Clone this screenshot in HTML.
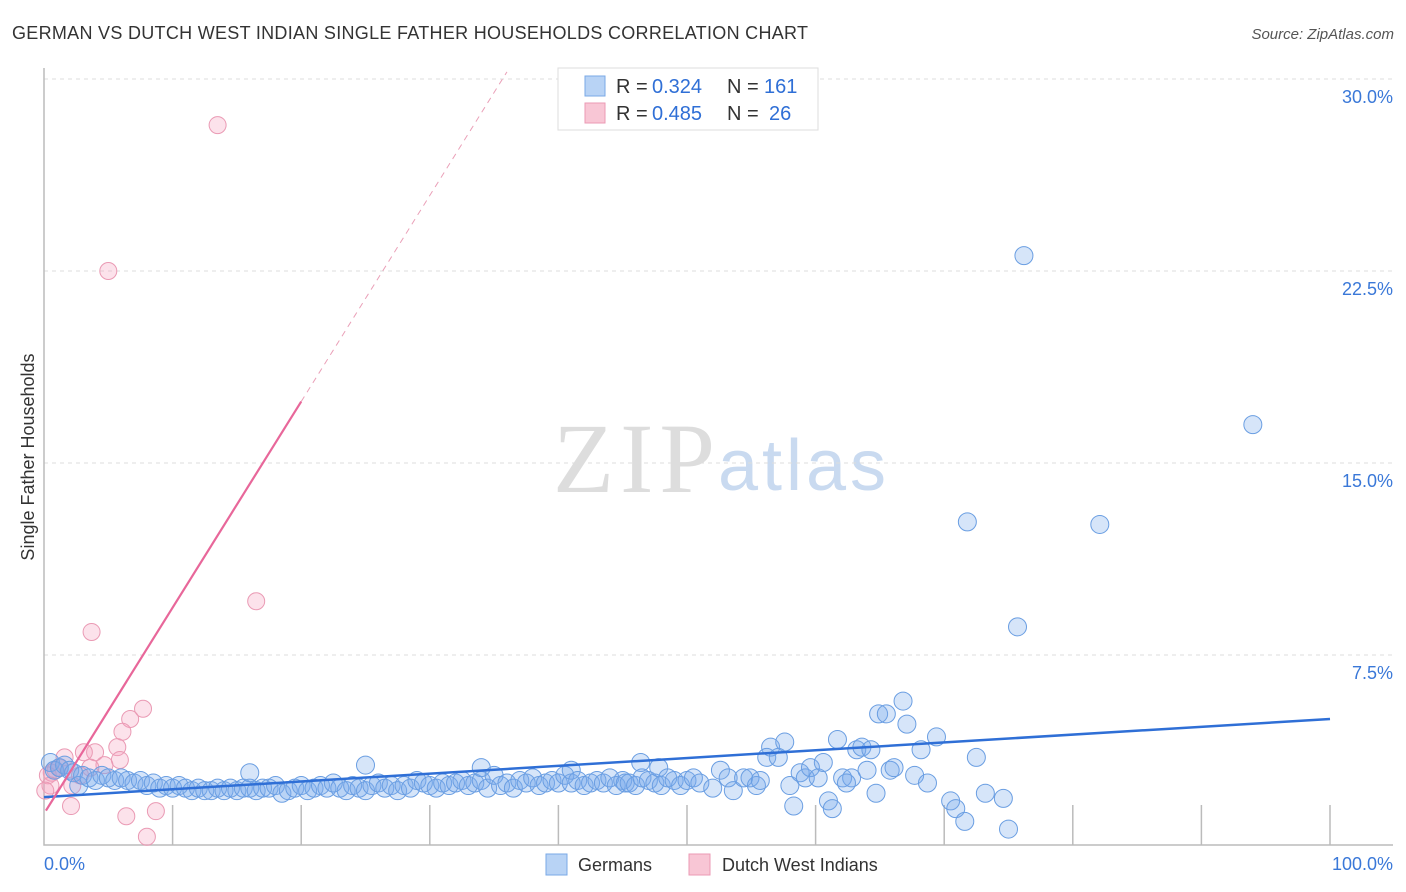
<!DOCTYPE html>
<html><head><meta charset="utf-8"><style>
body{margin:0;background:#fff;font-family:"Liberation Sans",sans-serif;}
#wrap{position:relative;width:1406px;height:892px;overflow:hidden}
</style></head><body><div id="wrap">
<svg id="svg" width="1406" height="892" xmlns="http://www.w3.org/2000/svg">
<text x="12" y="39" font-size="18" fill="#333" textLength="796">GERMAN VS DUTCH WEST INDIAN SINGLE FATHER HOUSEHOLDS CORRELATION CHART</text>
<text x="1394" y="39" font-size="15" fill="#555" text-anchor="end" font-style="italic">Source: ZipAtlas.com</text>
<text x="34" y="457" font-size="18" fill="#333" text-anchor="middle" transform="rotate(-90 34 457)">Single Father Households</text>
<text x="553" y="492" font-size="100" fill="#ddd" font-family="Liberation Serif,serif" textLength="162">ZIP</text>
<text x="718" y="490" font-size="72" fill="#c9daf0" textLength="168">atlas</text>
<g id="grid"></g><g id="axes"></g><g id="pts"></g><g id="lines"></g>
<rect x="558" y="68" width="260" height="62" fill="#fff" stroke="#ddd"/>
<rect x="585" y="76" width="20" height="20" fill="#b8d3f5" stroke="#7aa8e6"/>
<rect x="585" y="103" width="20" height="20" fill="#f8c6d5" stroke="#eb9ab4"/>
<g font-size="20" fill="#333">
<text x="616" y="93">R =</text>
<text x="652" y="93" fill="#2f6fd6">0.324</text>
<text x="727" y="93">N =</text>
<text x="764" y="93" fill="#2f6fd6">161</text>
<text x="616" y="120">R =</text>
<text x="652" y="120" fill="#2f6fd6">0.485</text>
<text x="727" y="120">N =</text>
<text x="769" y="120" fill="#2f6fd6">26</text>
</g>
<text x="44" y="870" font-size="18" fill="#3a78d8">0.0%</text>
<text x="1393" y="870" font-size="18" fill="#3a78d8" text-anchor="end">100.0%</text>
<rect x="546" y="854" width="21" height="21" fill="#b8d3f5" stroke="#7aa8e6"/>
<text x="578" y="871" font-size="18" fill="#333">Germans</text>
<rect x="689" y="854" width="21" height="21" fill="#f8c6d5" stroke="#eb9ab4"/>
<text x="722" y="871" font-size="18" fill="#333">Dutch West Indians</text>
</svg></div>
<script>
const yTicks=[7.5,15,22.5,30];
const yTickLabels=["7.5%","15.0%","22.5%","30.0%"];
const germansX=[0.5,0.8,1.2,1.6,2,2.3,2.7,3,3.5,4,4.5,5,5.5,6,6.5,7,7.5,8,8.5,9,9.5,10,10.5,11,11.5,12,12.5,13,13.5,14,14.5,15,15.5,16,16,16.5,17,17.5,18,18.5,19,19.5,20,20.5,21,21.5,22,22.5,23,23.5,24,24.5,25,25,25.5,26,26.5,27,27.5,28,28.5,29,29.5,30,30.5,31,31.5,32,32.5,33,33.5,34,34,34.5,35,35.5,36,36.5,37,37.5,38,38.5,39,39.5,40,40.5,41,41,41.5,42,42.5,43,43.5,44,44.5,45,45.2,45.5,46,46.4,46.5,47,47.5,47.8,48,48.5,49,49.5,50,50.5,51,52,52.6,53.2,53.6,54.4,54.9,55.4,55.7,56.5,57.6,56.2,57.1,58,58.3,58.8,59.2,59.6,60.2,60.6,61,61.3,61.7,62.1,62.8,62.4,63.2,63.6,64.3,64,64.7,64.9,65.5,66.8,67.1,65.8,66.1,68.2,67.7,68.7,69.4,70.5,70.9,71.6,72.5,73.2,74.6,75,76.2,94,71.8,82.1,75.7];
const germansY=[3.3,3.0,3.1,3.2,3.0,2.9,2.4,2.8,2.7,2.6,2.8,2.7,2.6,2.7,2.6,2.5,2.6,2.4,2.5,2.3,2.4,2.3,2.4,2.3,2.2,2.3,2.2,2.2,2.3,2.2,2.3,2.2,2.3,2.3,2.9,2.2,2.3,2.3,2.4,2.1,2.2,2.3,2.4,2.2,2.3,2.4,2.3,2.5,2.3,2.2,2.4,2.3,2.2,3.2,2.4,2.5,2.3,2.4,2.2,2.4,2.3,2.6,2.5,2.4,2.3,2.5,2.4,2.5,2.6,2.4,2.5,2.6,3.1,2.3,2.8,2.4,2.5,2.3,2.6,2.5,2.7,2.4,2.5,2.6,2.5,2.8,2.5,3.0,2.6,2.4,2.5,2.6,2.5,2.7,2.4,2.6,2.5,2.5,2.4,3.3,2.7,2.6,2.5,3.1,2.4,2.7,2.6,2.4,2.6,2.7,2.5,2.3,3.0,2.7,2.2,2.7,2.7,2.4,2.6,3.9,4.1,3.5,3.5,2.4,1.6,2.9,2.7,3.1,2.7,3.3,1.8,1.5,4.2,2.7,2.7,2.5,3.8,3.9,3.8,3.0,2.1,5.2,5.2,5.7,4.8,3.0,3.1,3.8,2.8,2.5,4.3,1.8,1.5,1.0,3.5,2.1,1.9,0.7,23.1,16.5,12.7,12.6,8.6];
const dutchX=[13.5,5,16.5,3.7,7.7,6.7,6.1,5.7,3.97,3.1,1.6,5.9,4.7,3.6,0.6,0.9,0.3,0.5,2.2,2.1,6.4,8.7,8,1.2,0.1,2.8];
const dutchY=[28.2,22.5,9.6,8.4,5.4,5.0,4.5,3.9,3.7,3.7,3.5,3.4,3.2,3.1,2.9,3.0,2.8,2.4,2.4,1.6,1.2,1.4,0.4,3.1,2.2,2.8];
const germanTrend=[1.95,5.0];
const dutchTrend=[1.3,0.805];
const NS="http://www.w3.org/2000/svg";
const X=v=>44+v*12.86, Y=v=>847-v*25.6;
function mk(t,a,p){const e=document.createElementNS(NS,t);for(const k in a)e.setAttribute(k,a[k]);p.appendChild(e);return e;}
const grid=document.getElementById('grid'),axes=document.getElementById('axes'),pts=document.getElementById('pts'),lines=document.getElementById('lines');
yTicks.forEach((t,i)=>{
 const l=mk('line',{x1:44,x2:1393,y1:Y(t),y2:Y(t),stroke:'#ddd','stroke-dasharray':'4,4'},grid);
 
 
 const tx=mk('text',{x:1393,y:Y(t)+24,'font-size':18,fill:'#3a78d8','text-anchor':'end'},grid);
 tx.textContent=yTickLabels[i];
 
 
});
const ax=mk('path',{d:'M44 68V845H1393',fill:'none',stroke:'#bbb','stroke-width':1.5},axes);


for(let i=1;i<=10;i++){const x=X(i*10);const tk=mk('line',{x1:x,x2:x,y1:805,y2:845,stroke:'#bbb','stroke-width':1.5},axes);
 
 }
dutchX.forEach((x,i)=>{const c=mk('circle',{cx:X(x),cy:Y(dutchY[i]),r:8.5,fill:'rgba(244,160,188,0.3)',stroke:'#ea9ab4','stroke-width':1},pts);
 
 });
germansX.forEach((x,i)=>{const c=mk('circle',{cx:X(x),cy:Y(germansY[i]),r:9,fill:'rgba(120,170,235,0.3)',stroke:'#6a9ee2','stroke-width':1},pts);
 
 });
const gl=mk('line',{x1:X(0),y1:Y(germanTrend[0]),x2:X(100),y2:Y(germanTrend[1]),stroke:'#2f6fd6','stroke-width':2.5},lines);


const dl=mk('line',{x1:X(0.15),y1:Y(dutchTrend[0]+dutchTrend[1]*0.15),x2:X(20),y2:Y(dutchTrend[0]+dutchTrend[1]*20),stroke:'#e8679a','stroke-width':2.2},lines);


const dd=mk('line',{x1:X(20),y1:Y(dutchTrend[0]+dutchTrend[1]*20),x2:X(36),y2:Y(dutchTrend[0]+dutchTrend[1]*36),stroke:'#eaa0b8','stroke-width':1,'stroke-dasharray':'6,5'},lines);


</script></body></html>
